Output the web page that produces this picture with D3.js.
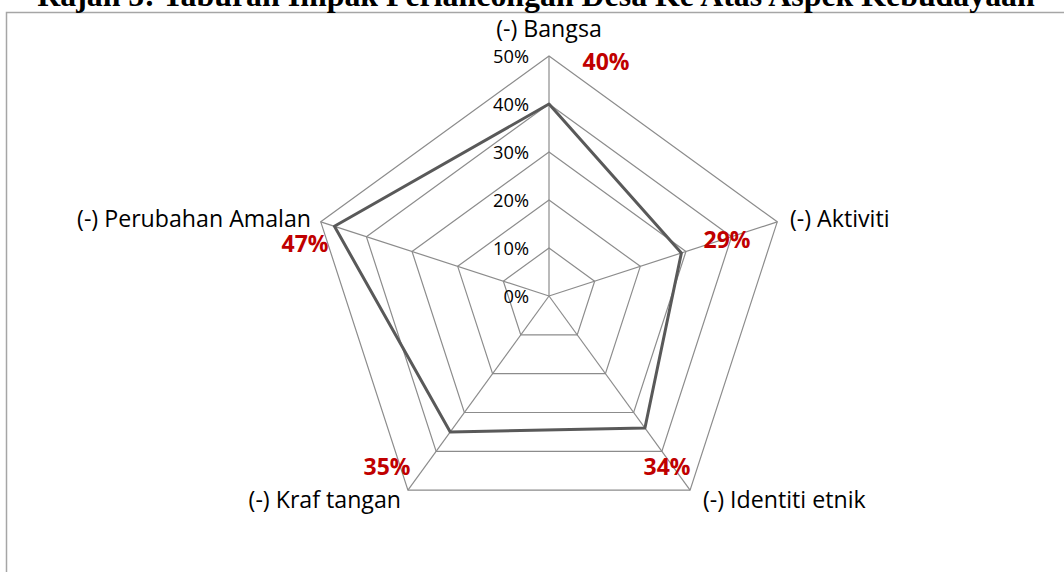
<!DOCTYPE html>
<html><head><meta charset="utf-8">
<script src="https://cdnjs.cloudflare.com/ajax/libs/d3/7.8.5/d3.min.js"></script>
<style>html,body{margin:0;padding:0;background:#fff;overflow:hidden}</style>
</head><body>
<svg id="c" width="1064" height="572"></svg>
<script>
const title = "Rajah 5: Taburan Impak Perlancongan Desa Ke Atas Aspek Kebudayaan";
const categories = ["(-) Bangsa", "(-) Aktiviti", "(-) Identiti etnik", "(-) Kraf tangan", "(-) Perubahan Amalan"];
const values = [0.40, 0.29, 0.34, 0.35, 0.47];
const ticks = [0, 0.1, 0.2, 0.3, 0.4, 0.5];

const svg = d3.select("#c");
const W = 1064, H = 572;
const cx = 549, cy = 296, R = 240;
const font = "'Open Sans', Lato, sans-serif";

// size a font so that a sample string has a given width
function fitSize(sample, target, family, weight, base) {
  const t = svg.append("text").attr("font-family", family).attr("font-weight", weight)
    .attr("font-size", base).text(sample);
  const w = t.node().getComputedTextLength();
  t.remove();
  return base * target / w;
}
const catSize = fitSize("(-) Perubahan Amalan", 234, font, "normal", 20);
const tickSize = fitSize("50%", 36, font, "normal", 16);
const valSize = fitSize("40%", 47, font, "bold", 20);
const titleSize = fitSize(title, 998, "'Liberation Serif','Times New Roman',serif", "bold", 28);

// frame
svg.append("path").attr("d", `M6.5,${H} L6.5,12.5 L${W},12.5`).attr("fill","none").attr("stroke","#a6a6a6").attr("stroke-width",1.5);

// title (clipped at the top)
svg.append("text").attr("x", 536).attr("y", 6).attr("text-anchor","middle")
  .attr("font-family","'Liberation Serif','Times New Roman',serif").attr("font-weight","bold")
  .attr("font-size", titleSize).attr("fill","#000").text(title);

const r = d3.scaleLinear().domain([0, 0.5]).range([0, R]);
const angle = d3.scalePoint().domain(categories).range([0, 2*Math.PI*(categories.length-1)/categories.length]);
const pt = (c, v) => [cx + r(v)*Math.sin(angle(c)), cy - r(v)*Math.cos(angle(c))];

const g = svg.append("g");
// rings
ticks.forEach(t => {
  if (t === 0) return;
  g.append("path").attr("d", d3.line()(categories.map(c => pt(c, t))) + "Z")
    .attr("fill","none").attr("stroke","#8c8c8c").attr("stroke-width",1.2);
});
// spokes
categories.forEach(c => {
  const [x, y] = pt(c, 0.5);
  g.append("line").attr("x1",cx).attr("y1",cy).attr("x2",x).attr("y2",y)
    .attr("stroke","#8c8c8c").attr("stroke-width",1.2);
});
// tick labels
ticks.forEach(t => {
  g.append("text").attr("x", cx - 20).attr("y", cy - r(t) + 1).attr("dy","0.35em")
    .attr("text-anchor","end").attr("font-family",font).attr("font-size",tickSize).attr("fill","#000")
    .text(d3.format(".0%")(t));
});
// data line
g.append("path").attr("d", d3.line()(categories.map((c,i) => pt(c, values[i]))) + "Z")
  .attr("fill","none").attr("stroke","#595959").attr("stroke-width",3).attr("stroke-linejoin","round");

// category labels
const catPos = [
  {x: 549, y: 29, a: "middle"},
  {x: 790, y: 219, a: "start"},
  {x: 703, y: 500, a: "start"},
  {x: 401, y: 500, a: "end"},
  {x: 311, y: 219, a: "end"}
];
categories.forEach((c,i) => {
  g.append("text").attr("x", catPos[i].x).attr("y", catPos[i].y).attr("dy","0.35em")
    .attr("text-anchor", catPos[i].a).attr("font-family",font).attr("font-size",catSize).attr("fill","#000").text(c);
});
// value labels
const valPos = [[606, 62],[727, 240],[667, 467],[387, 467],[305, 244]];
values.forEach((v,i) => {
  g.append("text").attr("x", valPos[i][0]).attr("y", valPos[i][1]).attr("dy","0.35em")
    .attr("text-anchor","middle").attr("font-family",font).attr("font-weight","bold").attr("font-size",valSize)
    .attr("fill","#c00000").text(d3.format(".0%")(v));
});
</script>
</body></html>
